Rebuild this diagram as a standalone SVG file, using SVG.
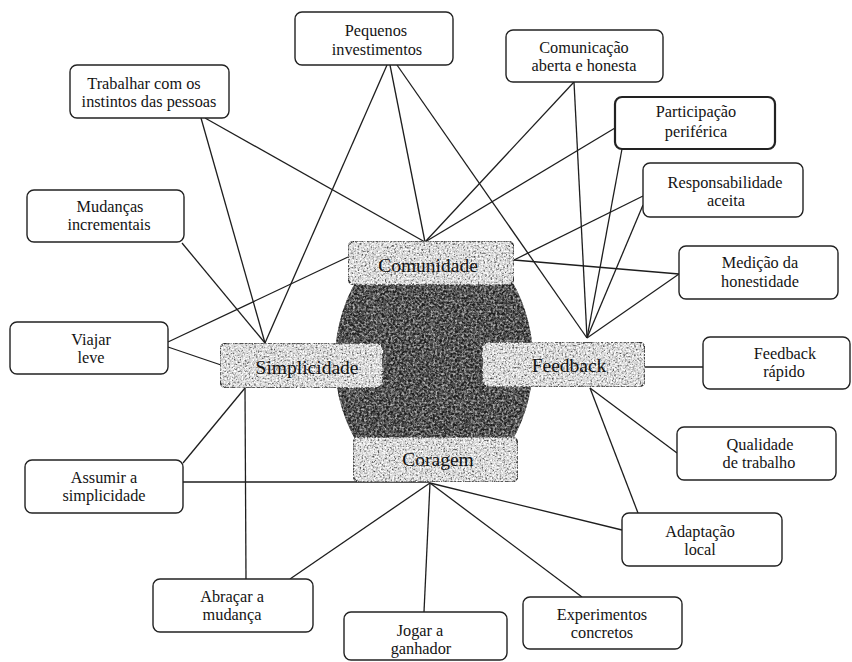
<svg xmlns="http://www.w3.org/2000/svg" width="852" height="662" viewBox="0 0 852 662">
  <defs>
    <style>
      .box { fill: #ffffff; stroke: #222; stroke-width: 1.4; }
      .core { fill: #d8d8d8; stroke: #2a2a2a; stroke-width: 1.6; }
      .lbl { font-family: "Liberation Serif", "Times New Roman", serif; font-size: 16.3px; fill: #141414; text-anchor: middle; }
      .core-lbl { font-family: "Liberation Serif", "Times New Roman", serif; font-size: 19.5px; fill: #111; text-anchor: middle; }
      .links line { stroke: #1e1e1e; stroke-width: 1.3; fill: none; }
    </style>
    <!-- speckled print grain for the light value boxes -->
    <filter id="grainLight" x="0" y="0" width="100%" height="100%" color-interpolation-filters="sRGB">
      <feTurbulence type="fractalNoise" baseFrequency="0.55" numOctaves="2" seed="4" result="noise"/>
      <feColorMatrix in="noise" type="matrix" values="0 0 0 0 0.3  0 0 0 0 0.3  0 0 0 0 0.3  3.0 0 0 0 -1.4" result="dark"/>
      <feColorMatrix in="noise" type="matrix" values="0 0 0 0 1  0 0 0 0 1  0 0 0 0 1  0 3.0 0 0 -1.2" result="light"/>
      <feMerge result="specks"><feMergeNode in="dark"/><feMergeNode in="light"/></feMerge>
      <feComposite in="specks" in2="SourceAlpha" operator="in" result="clipped"/>
      <feMerge><feMergeNode in="SourceGraphic"/><feMergeNode in="clipped"/></feMerge>
    </filter>
    <!-- darker, streaky grain for the central core -->
    <filter id="grainDark" x="0" y="0" width="100%" height="100%" color-interpolation-filters="sRGB">
      <feTurbulence type="fractalNoise" baseFrequency="0.45" numOctaves="2" seed="7" result="noise"/>
      <feTurbulence type="fractalNoise" baseFrequency="0.2 0.02" numOctaves="1" seed="2" result="streak"/>
      <feColorMatrix in="noise" type="matrix" values="0 0 0 0 0.12  0 0 0 0 0.12  0 0 0 0 0.12  3.4 0 0 0 -1.2" result="dark"/>
      <feColorMatrix in="noise" type="matrix" values="0 0 0 0 0.7  0 0 0 0 0.7  0 0 0 0 0.7  0 3.0 0 0 -1.35" result="light"/>
      <feColorMatrix in="streak" type="matrix" values="0 0 0 0 0.2  0 0 0 0 0.2  0 0 0 0 0.2  2.0 0 0 0 -0.95" result="bands"/>
      <feMerge result="specks"><feMergeNode in="bands"/><feMergeNode in="dark"/><feMergeNode in="light"/></feMerge>
      <feComposite in="specks" in2="SourceAlpha" operator="in" result="clipped"/>
      <feMerge><feMergeNode in="SourceGraphic"/><feMergeNode in="clipped"/></feMerge>
    </filter>
    <clipPath id="coreClip">
      <rect x="300" y="275" width="260" height="170"/>
    </clipPath>
  </defs>

  <rect width="852" height="662" fill="#ffffff"/>

  <!-- connectors -->
  <g id="connectors" class="links">
    <line x1="201" y1="118" x2="265" y2="343"/>
    <line x1="205" y1="118" x2="425" y2="242"/>
    <line x1="387" y1="65" x2="265" y2="343"/>
    <line x1="390" y1="65" x2="425" y2="242"/>
    <line x1="397" y1="65" x2="587" y2="338"/>
    <line x1="182" y1="243" x2="265" y2="343"/>
    <line x1="168" y1="342" x2="348" y2="257"/>
    <line x1="168" y1="347" x2="221" y2="365"/>
    <line x1="574" y1="82" x2="425" y2="242"/>
    <line x1="574" y1="82" x2="587" y2="338"/>
    <line x1="615" y1="128" x2="425" y2="242"/>
    <line x1="622" y1="149" x2="587" y2="338"/>
    <line x1="643" y1="196" x2="514" y2="260"/>
    <line x1="643" y1="205" x2="587" y2="338"/>
    <line x1="514" y1="260" x2="679" y2="274"/>
    <line x1="679" y1="274" x2="587" y2="338"/>
    <line x1="645" y1="367" x2="703" y2="367"/>
    <line x1="590" y1="388" x2="677" y2="453"/>
    <line x1="590" y1="388" x2="638" y2="513"/>
    <line x1="430" y1="483" x2="622" y2="530"/>
    <line x1="430" y1="483" x2="582" y2="597"/>
    <line x1="430" y1="483" x2="424" y2="612"/>
    <line x1="430" y1="483" x2="290" y2="579"/>
    <line x1="430" y1="482" x2="183" y2="482"/>
    <line x1="245" y1="388" x2="183" y2="463"/>
    <line x1="245" y1="388" x2="246" y2="579"/>
  </g>

  <!-- dark core behind the four values -->
  <g id="core" clip-path="url(#coreClip)">
    <ellipse cx="434" cy="361" rx="99" ry="129" fill="#616161" filter="url(#grainDark)"/>
  </g>

  <!-- the four values -->
  <g id="comunidade">
    <rect class="core" x="348" y="241" width="166" height="44" rx="7" filter="url(#grainLight)"/>
    <text class="core-lbl" x="428" y="272">Comunidade</text>
  </g>
  <g id="simplicidade">
    <rect class="core" x="220" y="343" width="163" height="45" rx="7" filter="url(#grainLight)"/>
    <text class="core-lbl" x="307" y="374">Simplicidade</text>
  </g>
  <g id="feedback">
    <rect class="core" x="482" y="342" width="163" height="45" rx="7" filter="url(#grainLight)"/>
    <text class="core-lbl" x="569" y="372">Feedback</text>
  </g>
  <g id="coragem">
    <rect class="core" x="353" y="437" width="165" height="45" rx="7" filter="url(#grainLight)"/>
    <text class="core-lbl" x="438" y="466">Coragem</text>
  </g>

  <!-- practices -->
  <g id="pequenos-investimentos">
    <rect class="box" x="295" y="12" width="158" height="53" rx="7"/>
    <text class="lbl" x="376" y="36">Pequenos</text>
    <text class="lbl" x="377" y="55">investimentos</text>
  </g>
  <g id="trabalhar-instintos">
    <rect class="box" x="70" y="65" width="159" height="53" rx="7"/>
    <text class="lbl" x="144" y="89">Trabalhar com os</text>
    <text class="lbl" x="149" y="107">instintos das pessoas</text>
  </g>
  <g id="mudancas-incrementais">
    <rect class="box" x="27" y="190" width="157" height="52" rx="7"/>
    <text class="lbl" x="110" y="212">Mudanças</text>
    <text class="lbl" x="109" y="230">incrementais</text>
  </g>
  <g id="comunicacao">
    <rect class="box" x="506" y="30" width="157" height="52" rx="7"/>
    <text class="lbl" x="584" y="53">Comunicação</text>
    <text class="lbl" x="584" y="71">aberta e honesta</text>
  </g>
  <g id="participacao">
    <rect class="box" x="615" y="97" width="160" height="52" rx="7" style="stroke-width:2.2"/>
    <text class="lbl" x="696" y="117">Participação</text>
    <text class="lbl" x="696" y="137">periférica</text>
  </g>
  <g id="responsabilidade">
    <rect class="box" x="643" y="163" width="160" height="54" rx="7"/>
    <text class="lbl" x="725" y="188">Responsabilidade</text>
    <text class="lbl" x="726" y="206">aceita</text>
  </g>
  <g id="medicao">
    <rect class="box" x="679" y="246" width="159" height="53" rx="7"/>
    <text class="lbl" x="760" y="268">Medição da</text>
    <text class="lbl" x="760" y="287">honestidade</text>
  </g>
  <g id="feedback-rapido">
    <rect class="box" x="703" y="337" width="147" height="52" rx="7"/>
    <text class="lbl" x="785" y="359">Feedback</text>
    <text class="lbl" x="784" y="377">rápido</text>
  </g>
  <g id="qualidade">
    <rect class="box" x="677" y="427" width="159" height="53" rx="7"/>
    <text class="lbl" x="760" y="450">Qualidade</text>
    <text class="lbl" x="759" y="468">de trabalho</text>
  </g>
  <g id="adaptacao">
    <rect class="box" x="622" y="513" width="160" height="53" rx="7"/>
    <text class="lbl" x="700" y="537">Adaptação</text>
    <text class="lbl" x="700" y="555">local</text>
  </g>
  <g id="experimentos">
    <rect class="box" x="523" y="597" width="159" height="52" rx="7"/>
    <text class="lbl" x="602" y="620">Experimentos</text>
    <text class="lbl" x="602" y="638">concretos</text>
  </g>
  <g id="jogar">
    <rect class="box" x="344" y="612" width="163" height="48" rx="7"/>
    <text class="lbl" x="420" y="636">Jogar a</text>
    <text class="lbl" x="421" y="654">ganhador</text>
  </g>
  <g id="abracar">
    <rect class="box" x="153" y="579" width="160" height="53" rx="7"/>
    <text class="lbl" x="232" y="602">Abraçar a</text>
    <text class="lbl" x="232" y="620">mudança</text>
  </g>
  <g id="assumir">
    <rect class="box" x="25" y="460" width="158" height="53" rx="7"/>
    <text class="lbl" x="104" y="483">Assumir a</text>
    <text class="lbl" x="104" y="501">simplicidade</text>
  </g>
  <g id="viajar">
    <rect class="box" x="10" y="322" width="158" height="52" rx="7"/>
    <text class="lbl" x="91" y="345">Viajar</text>
    <text class="lbl" x="91" y="363">leve</text>
  </g>
</svg>
